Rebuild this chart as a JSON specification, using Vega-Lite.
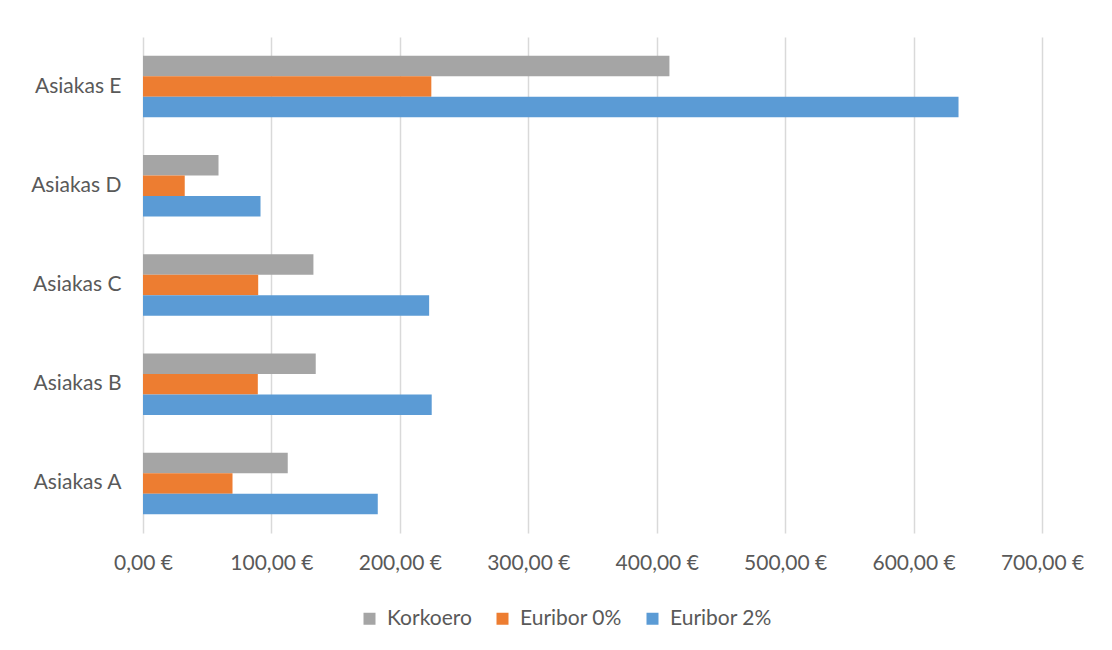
{
  "$schema": "https://vega.github.io/schema/vega-lite/v6.json",
  "width": 899,
  "height": 496,
  "padding": {"left": 30, "top": 37, "right": 10, "bottom": 10},
  "background": "white",
  "data": {
    "values": [
      {"asiakas": "Asiakas A", "sarja": "Korkoero", "arvo": 112.7},
      {"asiakas": "Asiakas A", "sarja": "Euribor 0%", "arvo": 69.7},
      {"asiakas": "Asiakas A", "sarja": "Euribor 2%", "arvo": 182.8},
      {"asiakas": "Asiakas B", "sarja": "Korkoero", "arvo": 134.5},
      {"asiakas": "Asiakas B", "sarja": "Euribor 0%", "arvo": 89.4},
      {"asiakas": "Asiakas B", "sarja": "Euribor 2%", "arvo": 224.8},
      {"asiakas": "Asiakas C", "sarja": "Korkoero", "arvo": 132.7},
      {"asiakas": "Asiakas C", "sarja": "Euribor 0%", "arvo": 89.7},
      {"asiakas": "Asiakas C", "sarja": "Euribor 2%", "arvo": 222.8},
      {"asiakas": "Asiakas D", "sarja": "Korkoero", "arvo": 58.8},
      {"asiakas": "Asiakas D", "sarja": "Euribor 0%", "arvo": 32.5},
      {"asiakas": "Asiakas D", "sarja": "Euribor 2%", "arvo": 91.5},
      {"asiakas": "Asiakas E", "sarja": "Korkoero", "arvo": 409.9},
      {"asiakas": "Asiakas E", "sarja": "Euribor 0%", "arvo": 224.5},
      {"asiakas": "Asiakas E", "sarja": "Euribor 2%", "arvo": 635}
    ]
  },
  "mark": {"type": "bar"},
  "encoding": {
    "y": {
      "field": "asiakas",
      "type": "nominal",
      "sort": ["Asiakas E", "Asiakas D", "Asiakas C", "Asiakas B", "Asiakas A"],
      "scale": {"paddingInner": 0.38, "paddingOuter": 0.19},
      "axis": {
        "title": null,
        "ticks": false,
        "domain": false,
        "labelPadding": 22,
        "labelFont": "Lato",
        "labelFontSize": 21,
        "labelColor": "#595959"
      }
    },
    "yOffset": {
      "field": "sarja",
      "type": "nominal",
      "sort": ["Korkoero", "Euribor 0%", "Euribor 2%"],
      "scale": {"paddingInner": 0, "paddingOuter": 0}
    },
    "x": {
      "field": "arvo",
      "type": "quantitative",
      "scale": {"domain": [0, 700], "nice": false},
      "axis": {
        "title": null,
        "values": [0, 100, 200, 300, 400, 500, 600, 700],
        "labelExpr": "replace(format(datum.value, '.2f'), '.', ',') + ' €'",
        "labelFlush": false,
        "labelOverlap": false,
        "ticks": false,
        "domain": false,
        "grid": true,
        "gridColor": "#D9D9D9",
        "gridWidth": 1.5,
        "labelPadding": 19,
        "labelFont": "Lato",
        "labelFontSize": 21,
        "labelColor": "#595959"
      }
    },
    "color": {
      "field": "sarja",
      "type": "nominal",
      "sort": ["Korkoero", "Euribor 0%", "Euribor 2%"],
      "scale": {
        "domain": ["Korkoero", "Euribor 0%", "Euribor 2%"],
        "range": ["#A5A5A5", "#ED7D31", "#5B9BD5"]
      },
      "legend": {
        "title": null,
        "orient": "none",
        "legendX": 216,
        "legendY": 571,
        "padding": 0,
        "direction": "horizontal",
        "symbolType": "square",
        "symbolSize": 144,
        "symbolStrokeWidth": 0,
        "labelOffset": 7,
        "labelFont": "Lato",
        "labelFontSize": 21,
        "labelColor": "#595959",
        "columnPadding": 20
      }
    }
  },
  "config": {
    "view": {"stroke": null}
  }
}
